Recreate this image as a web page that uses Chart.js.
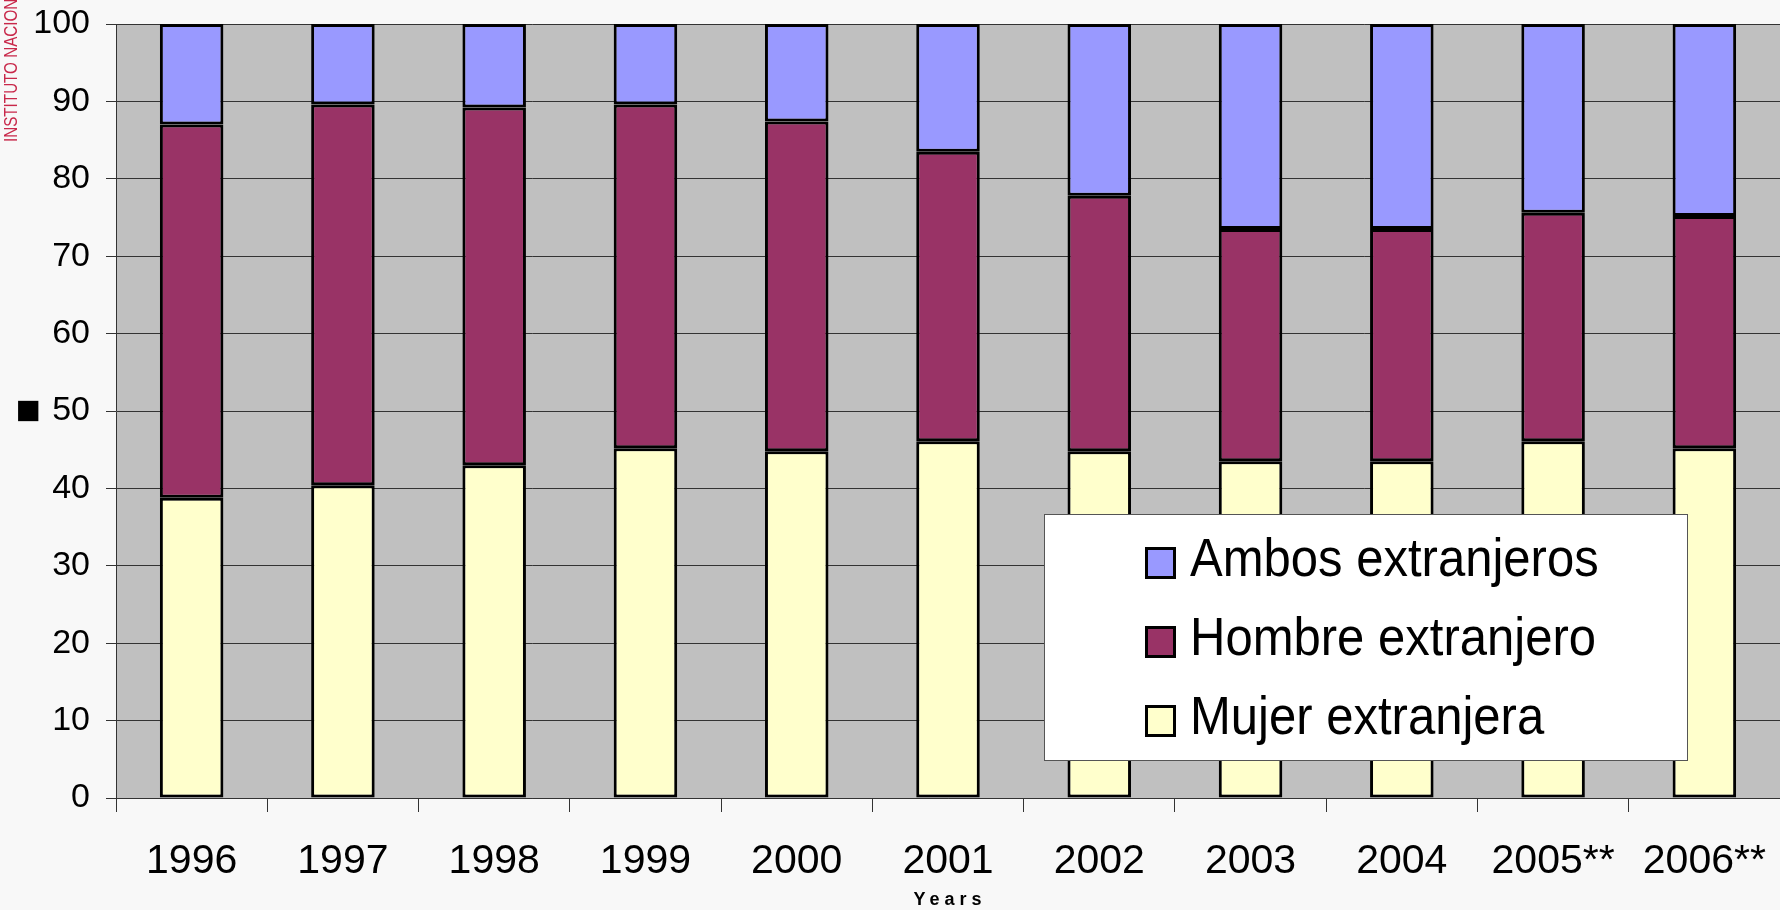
<!DOCTYPE html>
<html lang="es">
<head>
  <meta charset="UTF-8">
  <title>Matrimonios con extranjeros</title>
  <style>
    body {
      margin: 0;
      background: #f8f8f8;
      font-family: "Liberation Sans", Arial, sans-serif;
    }

    .wrap {
      position: relative;
      width: 1780px;
      height: 910px;
    }

    #legendBox {
      position: absolute;
      left: 1044px;
      top: 514px;
      width: 644px;
      height: 247px;
      box-sizing: border-box;
      background: #fff;
      border: 1px solid #555;
    }

    .item {
      position: absolute;
      left: 100px;
      height: 60px;
      line-height: 60px;
      font-size: 53px;
      color: #000;
      white-space: nowrap;
    }

    .item .txt {
      display: inline-block;
      transform: scaleX(0.925);
      transform-origin: left center;
    }

    .swatch {
      display: inline-block;
      width: 31px;
      height: 32px;
      box-sizing: border-box;
      border: 3px solid #000;
      margin-right: 14px;
      vertical-align: -3px;
    }
  </style>
</head>
<body>

<div class="wrap">
  <canvas id="chart"></canvas>
  <div id="legendBox"></div>
</div>

<script src="https://cdn.jsdelivr.net/npm/chart.js"></script>
<script>
const years = ['1996', '1997', '1998', '1999', '2000', '2001', '2002', '2003', '2004', '2005**', '2006**'];
const mujer  = [38.8, 40.4, 43.0, 45.2, 44.8, 46.1, 44.8, 43.5, 43.5, 46.1, 45.2];
const hombre = [48.2, 49.2, 46.2, 44.4, 42.6, 37.4, 33.0, 30.0, 30.0, 29.5, 30.0];
const ambos  = [13.0, 10.4, 10.8, 10.4, 12.6, 16.5, 22.2, 26.5, 26.5, 24.4, 24.8];
const yMin = 0, yMax = 100, yStep = 10;
const xTitle = 'Years';
const sideText = 'INSTITUTO NACIONAL DE ESTADÍSTICA';

const FONT = '"Liberation Sans", Arial, sans-serif';

const datasets = [
  { label: 'Mujer extranjera', data: mujer, backgroundColor: '#ffffcc' },
  { label: 'Hombre extranjero', data: hombre, backgroundColor: '#993366' },
  { label: 'Ambos extranjeros', data: ambos, backgroundColor: '#9999ff' }
].map(d => Object.assign(d, {
  borderColor: '#000',
  borderWidth: 3,
  borderSkipped: false,
  barPercentage: 0.42,
  categoryPercentage: 1
}));

// gray plot background + extra texts
const decor = {
  id: 'decor',
  beforeDraw(chart) {
    const { ctx, chartArea: a } = chart;
    ctx.save();
    ctx.fillStyle = '#c0c0c0';
    ctx.fillRect(a.left, a.top, a.right - a.left, a.bottom - a.top);
    ctx.restore();
  },
  afterDraw(chart) {
    const { ctx, chartArea: a } = chart;
    ctx.save();
    ctx.fillStyle = '#000';
    ctx.font = 'bold 18px ' + FONT;
    ctx.textAlign = 'center';
    ctx.textBaseline = 'middle';
    ctx.letterSpacing = '5px';
    ctx.fillText(xTitle, (a.left + a.right) / 2 + 2, 900);
    ctx.restore();

    // red side text, condensed like the original
    ctx.save();
    ctx.fillStyle = '#c8284a';
    ctx.font = '19px ' + FONT;
    ctx.translate(17, 142);
    ctx.rotate(-Math.PI / 2);
    ctx.scale(0.8, 1);
    ctx.textAlign = 'left';
    ctx.textBaseline = 'alphabetic';
    ctx.fillText(sideText, 0, 0);
    ctx.restore();
  }
};

const chart = new Chart(document.getElementById('chart'), {
  type: 'bar',
  data: { labels: years, datasets: datasets },
  options: {
    responsive: true,
    maintainAspectRatio: false,
    animation: false,
    layout: { padding: { top: 24, right: 0, bottom: 0, left: 0 } },
    plugins: {
      legend: { display: false },
      tooltip: { enabled: false }
    },
    scales: {
      x: {
        stacked: true,
        afterFit(s) { s.height = 112; s.paddingLeft = 0; s.paddingRight = 0; },
        grid: { display: true, drawOnChartArea: false, drawTicks: true, tickLength: 14, color: '#333', offset: true },
        border: { display: true, color: '#333', width: 1 },
        ticks: { color: '#000', font: { family: FONT, size: 41 }, padding: 25, maxRotation: 0, autoSkip: false }
      },
      y: {
        stacked: true,
        min: yMin,
        max: yMax,
        afterFit(s) { s.width = 116; s.paddingTop = 0; s.paddingBottom = 0; },
        grid: { color: '#333', lineWidth: 1, tickLength: 10, drawTicks: true },
        border: { display: true, color: '#333', width: 1 },
        ticks: { stepSize: yStep, color: '#000', font: { family: FONT, size: 34 }, padding: 16 },
        title: { display: true, text: '■', color: '#000', font: { family: FONT, size: 42 }, padding: { top: 4, bottom: 0 } }
      }
    }
  },
  plugins: [decor]
});

// legend (top series first)
const box = document.getElementById('legendBox');
datasets.slice().reverse().forEach((d, i) => {
  const row = document.createElement('div');
  row.className = 'item';
  row.style.top = (13 + i * 79) + 'px';
  const sw = document.createElement('span');
  sw.className = 'swatch';
  sw.style.background = d.backgroundColor;
  const txt = document.createElement('span');
  txt.className = 'txt';
  txt.textContent = d.label;
  row.appendChild(sw);
  row.appendChild(txt);
  box.appendChild(row);
});
</script>
</body>
</html>
